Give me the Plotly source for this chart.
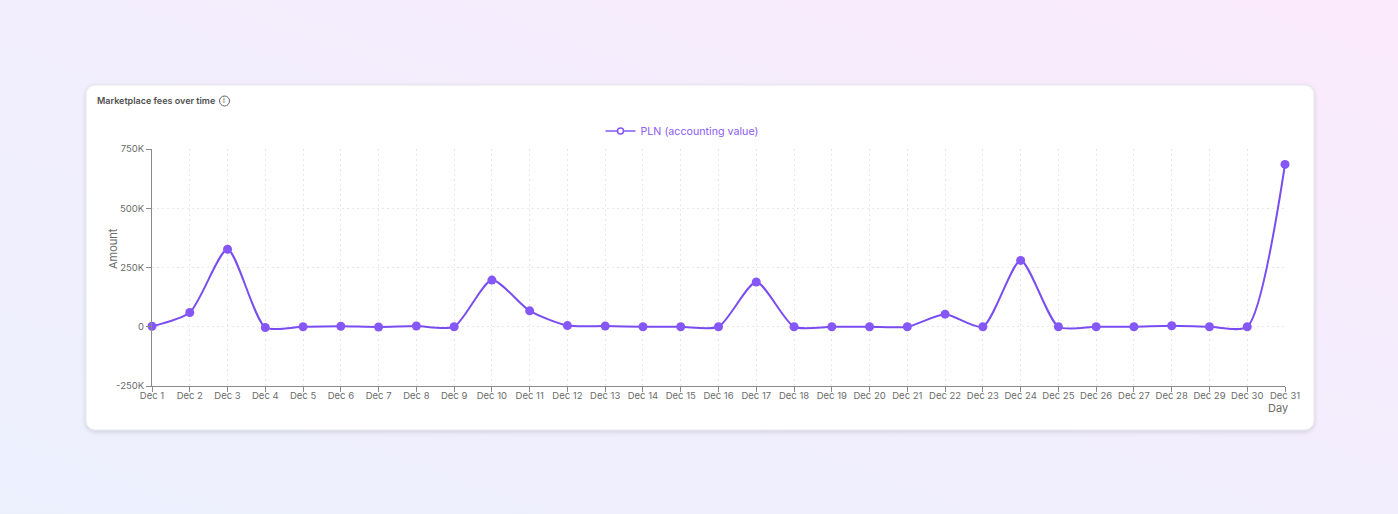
import base64
import plotly.graph_objects as go

days = [f"Dec {d}" for d in range(1, 32)]
amounts = [2000, 60000, 327000, -3000, 0, 2000, -1000, 3000, 0, 197000,
           67000, 5000, 3000, 0, 0, 0, 189000, 0, 0, 0,
           0, 53000, 0, 280000, 0, 0, 0, 4000, 0, 0,
           685000]
y_tickvals = [-250000, 0, 250000, 500000, 750000]
y_ticktext = ["-250K", "0", "250K", "500K", "750K"]
series_name = "PLN (accounting value)"

W, H = 1398, 514
LINE = "#7a4df0"
MARK = "#8457f6"
GRID = "#e8e8e8"
AXIS = "#8a8a8a"
TXT = "#6b6b6b"

svg = f"""<svg xmlns='http://www.w3.org/2000/svg' width='{W}' height='{H}' viewBox='0 0 {W} {H}' preserveAspectRatio='none'>
<defs>
<linearGradient id='g' x1='0' y1='1' x2='1' y2='0'>
<stop offset='0' stop-color='#ECF0FD'/>
<stop offset='0.5' stop-color='#F2EEFD'/>
<stop offset='1' stop-color='#FBEAFB'/>
</linearGradient>
<filter id='s' x='-5%' y='-10%' width='110%' height='130%'>
<feDropShadow dx='0' dy='1.5' stdDeviation='2' flood-color='#000' flood-opacity='0.14'/>
</filter>
</defs>
<rect width='{W}' height='{H}' fill='url(#g)'/>
<rect x='86' y='85' width='1228' height='345' rx='9' ry='9' fill='#ffffff' stroke='#e6e6ea' stroke-width='1' filter='url(#s)'/>
</svg>"""
bg_uri = "data:image/svg+xml;base64," + base64.b64encode(svg.encode()).decode()

fig = go.Figure()
fig.add_trace(go.Scatter(
    x=days, y=amounts, mode="lines+markers",
    line=dict(color=LINE, width=2, shape="spline", smoothing=0.66),
    marker=dict(color=MARK, size=9),
    showlegend=False, cliponaxis=False, name=series_name,
))
# legend entry (icon style like reference: line with hollow circle)
fig.add_trace(go.Scatter(
    x=[None], y=[None], mode="lines+markers", name=series_name,
    line=dict(color=MARK, width=1.5),
    marker=dict(color="#ffffff", size=6, line=dict(color=MARK, width=1.5)),
    showlegend=True,
))

def px_x(p):
    return p / W

def px_y(p):
    return 1 - p / H

fig.update_layout(
    width=W, height=H,
    margin=dict(l=0, r=0, t=0, b=0),
    paper_bgcolor="#F1EFFD",
    plot_bgcolor="rgba(0,0,0,0)",
    font=dict(family="Inter, 'Noto Sans', sans-serif", color=TXT, size=10),
    images=[dict(source=bg_uri, xref="paper", yref="paper", x=0, y=1,
                 sizex=1, sizey=1, xanchor="left", yanchor="top",
                 sizing="stretch", layer="below")],
    xaxis=dict(
        domain=[px_x(152), px_x(1285)],
        type="category", range=[0, 30],
        showgrid=True, gridcolor=GRID, griddash="2px,3px", gridwidth=1,
        showline=True, linecolor=AXIS, linewidth=1,
        ticks="outside", ticklen=5, tickcolor=AXIS,
        ticklabelstandoff=-4,
        tickfont=dict(size=9.5, color=TXT),
        automargin=False, fixedrange=True,
    ),
    yaxis=dict(
        domain=[1 - 386 / H, 1 - 149 / H],
        range=[-250000, 750000],
        tickvals=y_tickvals, ticktext=y_ticktext,
        showgrid=True, gridcolor=GRID, griddash="2px,3px", gridwidth=1,
        zeroline=False,
        showline=True, linecolor=AXIS, linewidth=1,
        ticks="outside", ticklen=5, tickcolor=AXIS,
        tickfont=dict(size=9.5, color=TXT),
        automargin=False, fixedrange=True,
    ),
    legend=dict(
        orientation="h", x=px_x(682), xanchor="center",
        y=px_y(131), yanchor="middle",
        font=dict(size=10.7, color="#8b5cf6"),
        bgcolor="rgba(0,0,0,0)", itemwidth=30,
    ),
    annotations=[
        dict(text="Marketplace fees over time", xref="paper", yref="paper",
             x=px_x(94.5), y=px_y(101), xanchor="left", yanchor="middle",
             showarrow=False, font=dict(size=9.0, color="#505050", weight=600)),
        dict(text="i", xref="paper", yref="paper",
             x=px_x(224.5), y=px_y(101), xanchor="center", yanchor="middle",
             showarrow=False, font=dict(size=7.5, color="#555555")),
        dict(text="Amount", xref="paper", yref="paper",
             x=px_x(113), y=px_y(249), xanchor="center", yanchor="middle",
             textangle=-90, showarrow=False, font=dict(size=11, color=TXT)),
        dict(text="Day", xref="paper", yref="paper",
             x=px_x(1278), y=px_y(408), xanchor="center", yanchor="middle",
             showarrow=False, font=dict(size=11, color=TXT)),
    ],
    shapes=[
        dict(type="circle", xref="paper", yref="paper",
             x0=px_x(219.5), x1=px_x(229.5), y0=px_y(106), y1=px_y(96),
             line=dict(color="#666666", width=1), fillcolor="rgba(0,0,0,0)",
             layer="above"),
    ],
)

fig.write_html("out.html",
               config={"displayModeBar": False},
               post_script="document.body.style.margin='0';document.body.style.padding='0';")
